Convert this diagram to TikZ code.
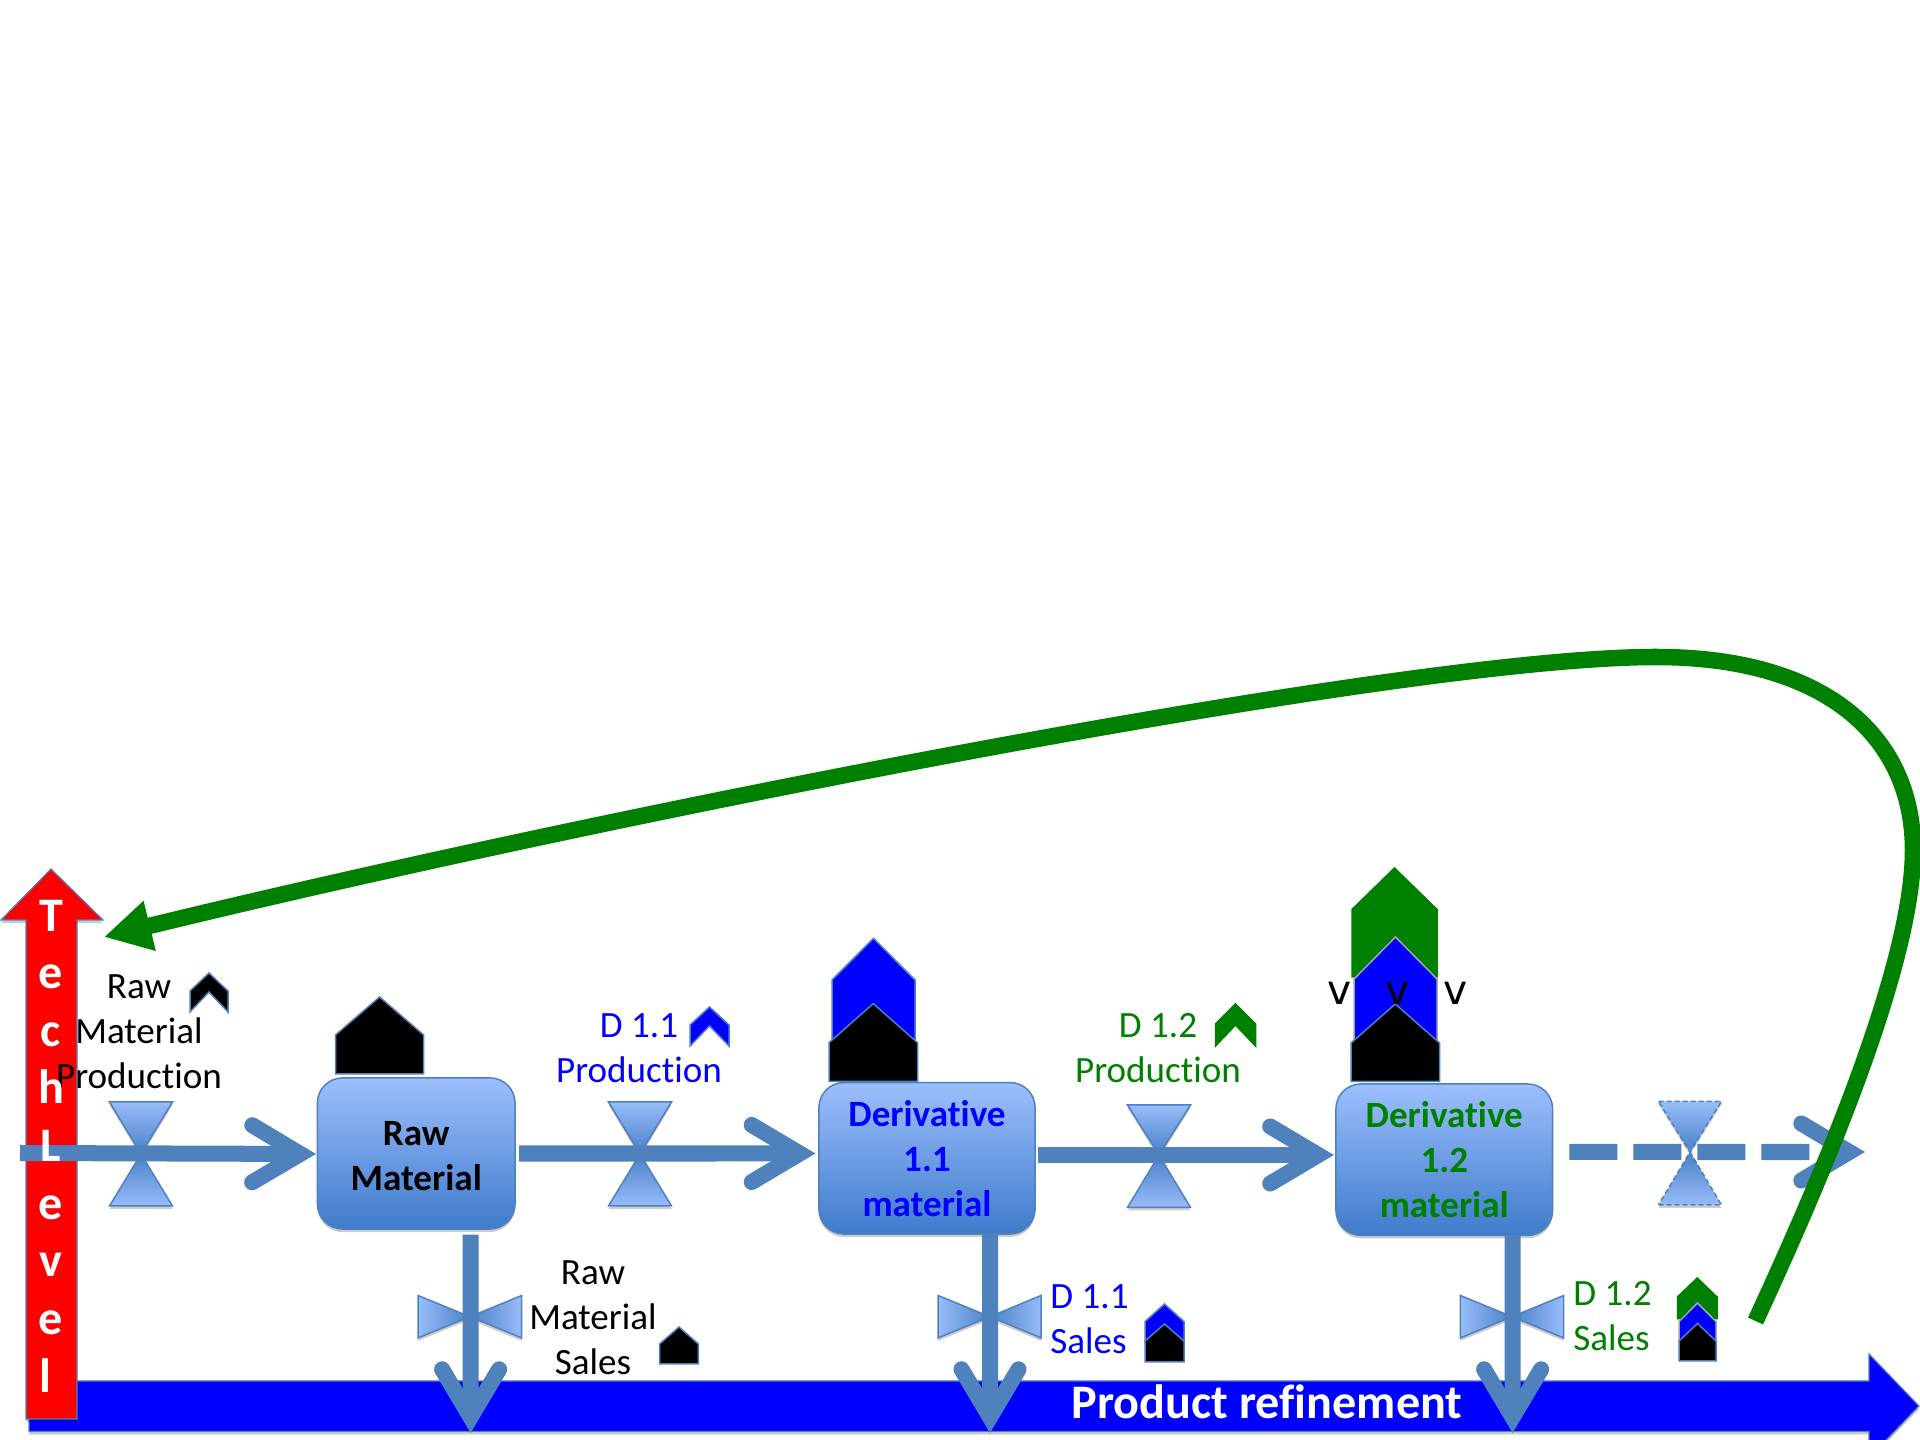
\documentclass[tikz,border=0pt]{standalone}
\usepackage{fontspec}
\setmainfont{Carlito}[Ligatures=NoCommon]
\newfontfamily\vfont{DejaVu Sans}
\usetikzlibrary{arrows.meta,shadows,calc}
\definecolor{flowc}{HTML}{4F81BD}
\definecolor{lite}{HTML}{98BCFA}
\definecolor{deep}{HTML}{4A80C8}
\definecolor{boxtop}{HTML}{9CBFFD}
\definecolor{boxbot}{HTML}{3E7BCB}
\definecolor{dgreen}{HTML}{008000}
\definecolor{pblue}{HTML}{0000FF}
\definecolor{pred}{HTML}{FF0000}
\tikzset{
  softshadow/.style={drop shadow={shadow xshift=0cm,shadow yshift=-0.03cm,opacity=.2,fill=black}},
  flow/.style={draw=flowc,line width=0.16cm,
    -{Straight Barb[length=4.8mm 0 0,width=5.7mm 0 0,line cap=round,line join=miter]}},
  box/.style={draw=flowc,line width=0.015cm,rounded corners=0.25cm,top color=boxtop,bottom color=boxbot,
    inner sep=0pt,outer sep=0pt,align=center,softshadow,font=\lbl\bfseries},
  valve/.style={draw=flowc,line width=0.015cm,softshadow,line join=miter},
  lab/.style={inner sep=0pt,outer sep=0pt,align=center,font=\lbl},
  pentagon/.style={line width=0.015cm,line join=miter},
  bigarrow/.style={draw=flowc,line width=0.012cm,line join=miter,softshadow},
}
\newcommand\lbl{\fontsize{10.55pt}{12.8pt}\selectfont}
\newcommand\vvalve[6][]{%
  \draw[valve,#1,top color=lite,bottom color=deep] ({#2-#4},#5) -- ({#2+#4},#5) -- (#2,#3) -- cycle;
  \draw[valve,#1,top color=deep,bottom color=lite] ({#2-#4},#6) -- ({#2+#4},#6) -- (#2,#3) -- cycle;}
\newcommand\hvalve[6]{%
  \draw[valve,left color=lite,right color=deep] (#4,{#2-#3}) -- (#4,{#2+#3}) -- (#1,#2) -- cycle;
  \draw[valve,left color=deep,right color=lite] (#5,{#2-#3}) -- (#5,{#2+#3}) -- (#1,#2) -- cycle;}
\newcommand\penta[7]{%
  \draw[pentagon,draw=#7,fill=#6] (#1,#5) -- (#1,#4) -- ({(#1+#2)/2},#3) -- (#2,#4) -- (#2,#5) -- cycle;}
\newcommand\chev[7]{%
  \draw[pentagon,draw=#7,fill=#6] (#1,#5) -- (#1,#4) -- ({(#1+#2)/2},#3) -- (#2,#4) -- (#2,#5) -- ({(#1+#2)/2},{#4+1}) -- cycle;}
\begin{document}
\begin{tikzpicture}[x=0.01cm,y=-0.01cm]
\clip (0,0) rectangle (1920,1440);
\fill[white] (0,0) rectangle (1920,1440);
% axes
\draw[bigarrow,fill=pblue] (29,1381) -- (1869,1381) -- (1869,1354) -- (1919,1406) -- (1869,1458) -- (1869,1431.5) -- (29,1431.5) -- cycle;
\draw[bigarrow,fill=pred] (51,869) -- (103,920) -- (77,920) -- (77,1419) -- (26,1419) -- (26,920) -- (1,920) -- cycle;
% process boxes
\node[box,minimum width=1.975cm,minimum height=1.51cm] (raw) at (416.25,1153.5) {\rule{0pt}{0.29cm}Raw\\Material};
\node[box,minimum width=2.16cm,minimum height=1.514cm,text=pblue] (d11) at (927,1158.3) {Derivative\\1.1\\material};
\node[box,minimum width=2.166cm,minimum height=1.514cm,text=dgreen] (d12) at (1444.3,1159.7) {Derivative\\1.2\\material};
% valves
\vvalve{141}{1154}{31.5}{1102}{1206}
\vvalve{640}{1154}{31.5}{1102}{1206}
\vvalve{1159}{1155}{31.5}{1105}{1207.5}
\vvalve[dashed,dash pattern=on 0.05cm off 0.03cm]{1690}{1152}{31.5}{1101.4}{1205}
\hvalve{470}{1316.7}{21.2}{418}{521.6}{}
\hvalve{990}{1316.7}{21.2}{938}{1041}{}
\hvalve{1512}{1316.7}{21.2}{1460.4}{1563.7}{}
% flow ends
\coordinate (f1s) at (20,1153);
\coordinate (f1e) at ([xshift=-0.015cm,yshift=-0.005cm]raw.west);
\coordinate (f2s) at ([xshift=0.04cm]raw.east);
\coordinate (f2e) at ([xshift=-0.035cm,yshift=0.048cm]d11.west);
\coordinate (f3s) at ([xshift=0.03cm,yshift=0.033cm]d11.east);
\coordinate (f3e) at ([xshift=-0.02cm,yshift=0.047cm]d12.west);
\coordinate (f4s) at ([xshift=0.166cm,yshift=0.077cm]d12.east);
\coordinate (f4e) at (1865,1152);
\coordinate (s1s) at ([xshift=0.544cm,yshift=-0.056cm]raw.south);
\coordinate (s1e) at (470.6,1433);
\coordinate (s2s) at ([xshift=0.63cm]d11.south);
\coordinate (s2e) at (990,1433);
\coordinate (s3s) at ([xshift=0.683cm]d12.south);
\coordinate (s3e) at (1512.6,1433);
\draw[flow] (f1s) -- (f1e);
\draw[flow] (f2s) -- (f2e);
\draw[flow] (f3s) -- (f3e);
\draw[flow,dash pattern=on 0.48cm off 0.16cm] (f4s) -- (f4e);
\draw[flow] (s1s) -- (s1e);
\draw[flow] (s2s) -- (s2e);
\draw[flow] (s3s) -- (s3e);
% stacks
\penta{335.5}{423.7}{997}{1035}{1074}{black}{flowc}
\penta{832}{915}{938.4}{980}{1042}{pblue}{flowc}
\penta{829}{917.5}{1003.6}{1042.7}{1081.5}{black}{flowc}
\penta{1352}{1437}{868}{909.5}{977}{dgreen}{dgreen}
\penta{1354}{1437}{937}{979}{1041}{pblue}{gray!70}
\penta{1351}{1439.6}{1004}{1043}{1081.5}{black}{flowc}
\penta{659.6}{698.4}{1327}{1344}{1364}{black}{flowc}
\penta{1145}{1184}{1304}{1321.6}{1343}{pblue}{flowc}
\penta{1145}{1184}{1324}{1341}{1362}{black}{flowc}
\penta{1677.5}{1717}{1278}{1297}{1318.6}{dgreen}{dgreen}
\penta{1679}{1716}{1303}{1321.6}{1341}{pblue}{gray!70}
\penta{1679}{1716}{1323.5}{1341}{1361}{black}{flowc}
\chev{190}{228}{973}{991}{1012}{black}{flowc}
\chev{690}{729}{1007}{1025}{1046}{pblue}{flowc}
\chev{1215.5}{1255.5}{1004}{1024}{1046}{dgreen}{dgreen}
% labels
\node[lab] (t1) at (139,1032) {Raw\\Material\\Production};
\node[lab,text=pblue] (t2) at (639,1048) {D 1.1\\Production};
\node[lab,text=dgreen] (t3) at (1158,1048) {D 1.2\\Production};
\node[lab] (t4) at (593,1318) {Raw\\Material\\Sales};
\node[lab,text=pblue,align=left] (t5) at (1089.5,1319) {D 1.1\\Sales};
\node[lab,text=dgreen,align=left] (t6) at (1612.5,1316) {D 1.2\\Sales};
\node[inner sep=0pt,font=\fontsize{11.6pt}{13pt}\vfont] (v1) at (1340,993.5) {v};
\node[inner sep=0pt,font=\fontsize{11.6pt}{13pt}\vfont] (v2) at (1397.5,993.5) {v};
\node[inner sep=0pt,font=\fontsize{11.6pt}{13pt}\vfont] (v3) at (1455.5,993.5) {v};
\node[inner sep=0pt,text=white,font=\fontsize{13.7pt}{16.5pt}\selectfont\bfseries] (pr) at (1267,1402) {Product refinement};
\node[inner sep=0pt,text=white,align=center,font=\fontsize{13.7pt}{16.39pt}\selectfont\bfseries] (tl) at (51,1146) {T\\e\\c\\h\\L\\e\\v\\e\\l\hspace*{0.12cm}};
% feedback
\coordinate (gs) at (1755.5,1321);
\coordinate (ge) at (104,937);
\draw[dgreen,line width=0.165cm,-{Triangle[length=4.7mm 0 0,width=4.8mm 0 0]}]
  (gs) .. controls (1830,1160) and (1913,960) .. (1913,850)
  .. controls (1913,740) and (1830,657) .. (1656,657)
  .. controls (1400,657) and (600,816) .. (ge);
\end{tikzpicture}
\end{document}
